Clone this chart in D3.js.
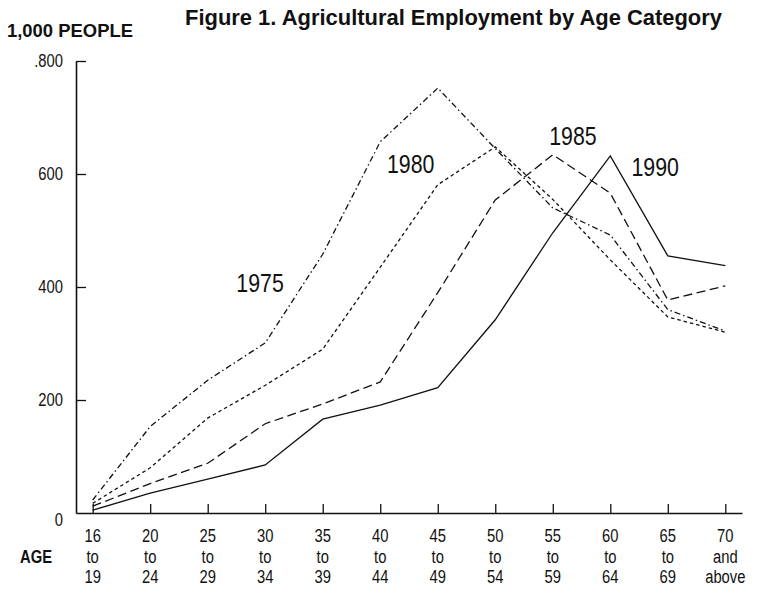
<!DOCTYPE html>
<html>
<head>
<meta charset="utf-8">
<script src="https://cdn.jsdelivr.net/npm/d3@7"></script>
<style>
  html, body { margin: 0; padding: 0; background: #fff; }
  svg { display: block; }
  text { font-family: "Liberation Sans", Arial, Helvetica, sans-serif; }
</style>
</head>
<body>
<svg id="chart" width="759" height="594"></svg>
<script>
// ---- data ----
const categories = ["16-19","20-24","25-29","30-34","35-39","40-44","45-49","50-54","55-59","60-64","65-69","70+"];
const xLabelTop = ["16","20","25","30","35","40","45","50","55","60","65","70"];
const xLabelMid = ["to","to","to","to","to","to","to","to","to","to","to","and"];
const xLabelBot = ["19","24","29","34","39","44","49","54","59","64","69","above"];
const years = ["1975","1980","1985","1990"];
const v1975 = [23, 153, 235, 301, 458, 657, 752, 645, 540, 492, 360, 322];
const v1980 = [17, 80, 168, 226, 290, 435, 581, 648, 555, 448, 347, 320];
const v1985 = [12, 52, 88, 158, 193, 232, 390, 554, 634, 566, 377, 402];
const v1990 = [5, 35, 60, 85, 166, 191, 222, 342, 496, 632, 455, 438];
const yTickValues = [0, 200, 400, 600, 800];
const yTickLabels = ["0", "200", "400", "600", ".800"];
// label anchors in data units (category index, value)
const labelIdx = [2.91, 5.53, 8.35, 9.78];
const labelVal = [391, 602, 651, 597];

const series = [v1975, v1980, v1985, v1990];
const dashes = ["6,3,1.5,3", "3.5,3", "9,4.5", null];

// ---- layout ----
const svg = d3.select("#chart");
const plotL = 76, plotR = 742, plotT = 61, plotB = 513;
const INK = "#111";

// condensed look: squeeze glyphs horizontally
function narrow(sel, f = 0.82) {
  sel.each(function () {
    const w = this.getComputedTextLength();
    d3.select(this).attr("textLength", w * f).attr("lengthAdjust", "spacingAndGlyphs");
  });
}

const x = d3.scalePoint().domain(categories).range([plotL, plotR]).padding(0.29);
const xi = d3.scaleLinear().domain([0, categories.length - 1])
  .range([x(categories[0]), x(categories[categories.length - 1])]);
const y = d3.scaleLinear().domain([0, 800]).range([plotB, plotT]);

// y axis
const yAxis = d3.axisLeft(y).tickValues(yTickValues)
  .tickFormat((d, i) => yTickLabels[i]).tickSize(-10).tickSizeOuter(0).tickPadding(13);
const gy = svg.append("g").attr("transform", `translate(${plotL},0)`).call(yAxis);
gy.attr("font-family", null).attr("font-size", null);
gy.select(".domain").attr("stroke", INK).attr("stroke-width", 1.6);
gy.selectAll(".tick line").attr("stroke", INK).attr("stroke-width", 1.3);
gy.selectAll(".tick text").attr("font-size", 18).attr("fill", INK);
gy.selectAll(".tick").filter(d => d === 0).select("line").remove();
gy.selectAll(".tick").filter(d => d === 0).select("text").attr("dy", "0.7em");
narrow(gy.selectAll(".tick text"));

// x axis
const xAxis = d3.axisBottom(x).tickSize(-9).tickSizeOuter(0).tickFormat("");
const gx = svg.append("g").attr("transform", `translate(0,${plotB})`).call(xAxis);
gx.select(".domain").attr("stroke", INK).attr("stroke-width", 1.6);
gx.selectAll(".tick line").attr("stroke", INK).attr("stroke-width", 1.3);

// x labels (three lines)
const xl = svg.append("g").attr("font-size", 18).attr("fill", INK).attr("text-anchor", "middle");
[xLabelTop, xLabelMid, xLabelBot].forEach((arr, row) => {
  xl.selectAll(null).data(categories).enter().append("text")
    .attr("x", d => x(d)).attr("y", plotB + 29 + row * 20.5)
    .text((d, i) => arr[i]);
});
narrow(xl.selectAll("text"));
const age = svg.append("text").attr("x", 36).attr("y", plotB + 50)
  .attr("text-anchor", "middle").attr("font-weight", "bold").attr("font-size", 18).attr("fill", INK).text("AGE");
narrow(age);

// lines
const line = d3.line().x((d, i) => x(categories[i])).y(d => y(d));
series.forEach((s, k) => {
  const p = svg.append("path").datum(s).attr("d", line)
    .attr("fill", "none").attr("stroke", INK).attr("stroke-width", 1.3)
    .attr("stroke-linejoin", "miter");
  if (dashes[k]) p.attr("stroke-dasharray", dashes[k]);
});

// line labels
const lbl = svg.append("g").attr("font-size", 26).attr("fill", INK).attr("text-anchor", "middle");
lbl.selectAll("text").data(years).enter().append("text")
  .attr("x", (d, k) => xi(labelIdx[k])).attr("y", (d, k) => y(labelVal[k])).text(d => d);
narrow(lbl.selectAll("text"));

// titles
const title = svg.append("text").attr("x", 453.5).attr("y", 25)
  .attr("text-anchor", "middle").attr("font-weight", "bold").attr("font-size", 22).attr("fill", INK)
  .text("Figure 1. Agricultural Employment by Age Category")
  .attr("textLength", 537).attr("lengthAdjust", "spacingAndGlyphs");
const unit = svg.append("text").attr("x", 7).attr("y", 37)
  .attr("font-weight", "bold").attr("font-size", 18).attr("fill", INK)
  .text("1,000 PEOPLE")
  .attr("textLength", 126).attr("lengthAdjust", "spacingAndGlyphs");
</script>
</body>
</html>
